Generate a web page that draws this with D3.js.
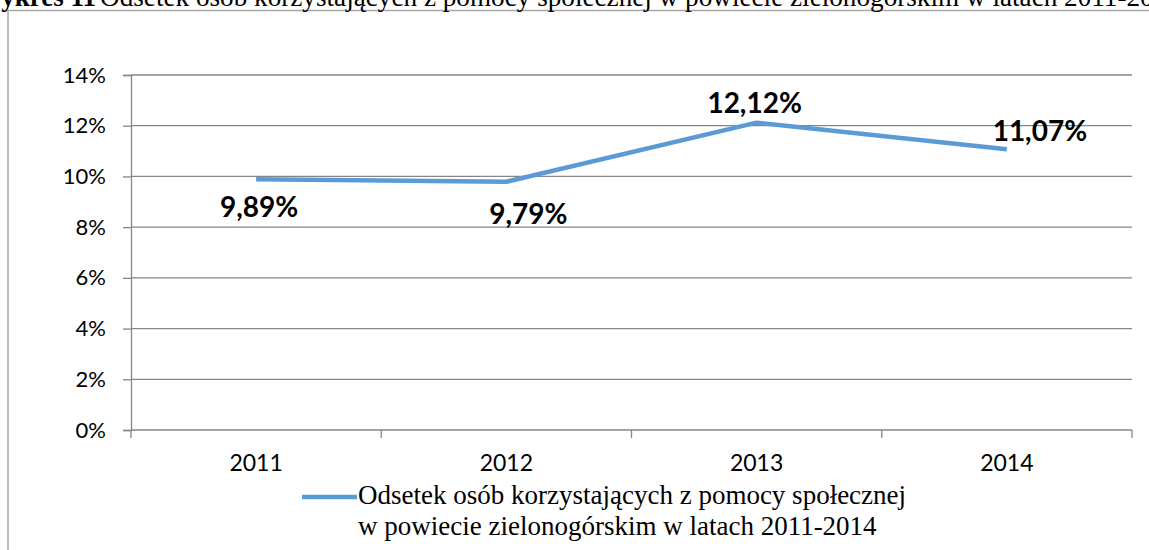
<!DOCTYPE html>
<html>
<head>
<meta charset="utf-8">
<script src="https://cdn.jsdelivr.net/npm/d3@7"></script>
<style>
  body { margin: 0; background: #fff; }
</style>
</head>
<body>
<div id="chart"></div>
<script>
// dane z wykresu
var lata = ["2011", "2012", "2013", "2014"];
var odsetek = [9.89, 9.79, 12.12, 11.07];
var yTicks = [0, 2, 4, 6, 8, 10, 12, 14];
var etykiety = ["9,89%", "9,79%", "12,12%", "11,07%"];
var tytulBold = "Wykres 11";
var tytul = "Odsetek osób korzystających z pomocy społecznej w powiecie zielonogórskim w latach 2011-2014";
var legenda = ["Odsetek osób korzystających z pomocy społecznej", "w powiecie zielonogórskim w latach 2011-2014"];

// przesunięcia etykiet danych (dx, baseline dy)
var labelOffset = [[3, 38], [22, 42], [-2, -10], [33, -8]];

var W = 1149, H = 550;
var svg = d3.select("#chart").append("svg")
  .attr("width", W)
  .attr("height", H);

// ramka
svg.append("rect")
  .attr("x", 8)
  .attr("y", 10.5)
  .attr("width", 1160)
  .attr("height", 600)
  .style("fill", "none")
  .style("stroke", "#a6a6a6")
  .style("stroke-width", 1.5);

// tytuł (ucięty u góry)
svg.append("text")
  .attr("x", 96)
  .attr("y", 6)
  .attr("text-anchor", "end")
  .style("font-family", "'Liberation Serif', 'Times New Roman', serif")
  .style("font-weight", "bold")
  .style("font-size", "27px")
  .text(tytulBold);
svg.append("text")
  .attr("x", 100)
  .attr("y", 6)
  .style("font-family", "'Liberation Serif', 'Times New Roman', serif")
  .style("font-size", "27.2px")
  .text(tytul);

var x = d3.scaleBand().domain(lata).range([131, 1132]);
var y = d3.scaleLinear().domain([0, 14]).range([430, 75]);

// siatka
svg.append("g")
  .selectAll("line")
  .data(yTicks)
  .enter()
  .append("line")
  .attr("x1", 131)
  .attr("x2", 1132)
  .attr("y1", function(d){ return y(d); })
  .attr("y2", function(d){ return y(d); })
  .style("stroke", "#868686")
  .style("stroke-width", 1.3);

// oś Y
var yAxis = svg.append("g")
  .attr("transform", "translate(131,0)")
  .call(d3.axisLeft(y).tickValues(yTicks).tickSize(8).tickPadding(17)
    .tickFormat(function(d){ return d + "%"; }));
yAxis.select(".domain").style("stroke", "#868686").style("stroke-width", 1.3);
yAxis.selectAll(".tick line").style("stroke", "#868686").style("stroke-width", 1.3);
yAxis.selectAll("text")
  .style("font-family", "Lato, 'Open Sans', sans-serif")
  .style("font-size", "22px")
  .style("fill", "#000");

// oś X
var xAxis = svg.append("g")
  .attr("transform", "translate(0,430)")
  .call(d3.axisBottom(x).tickSize(0).tickPadding(25));
xAxis.select(".domain").remove();
xAxis.selectAll("text")
  .style("font-family", "Lato, 'Open Sans', sans-serif")
  .style("font-size", "23px")
  .style("fill", "#000");

// znaczniki między kategoriami
var granice = lata.map(function(d){ return x(d); }).concat([x.range()[1]]);
svg.append("g")
  .selectAll("line")
  .data(granice)
  .enter()
  .append("line")
  .attr("x1", function(d){ return d; })
  .attr("x2", function(d){ return d; })
  .attr("y1", 430)
  .attr("y2", 438)
  .style("stroke", "#868686")
  .style("stroke-width", 1.3);

// linia danych
var line = d3.line()
  .x(function(d, i){ return x(lata[i]) + x.bandwidth() / 2; })
  .y(function(d){ return y(d); });

svg.append("path")
  .datum(odsetek)
  .attr("d", line)
  .style("fill", "none")
  .style("stroke", "#5b9bd5")
  .style("stroke-width", 4.5)
  .style("stroke-linejoin", "round");

// etykiety danych
svg.append("g")
  .selectAll("text")
  .data(odsetek)
  .enter()
  .append("text")
  .attr("x", function(d, i){ return x(lata[i]) + x.bandwidth() / 2 + labelOffset[i][0]; })
  .attr("y", function(d, i){ return y(d) + labelOffset[i][1]; })
  .attr("text-anchor", "middle")
  .style("font-family", "Lato, 'Open Sans', sans-serif")
  .style("font-weight", "bold")
  .style("font-size", "28px")
  .style("fill", "#000")
  .text(function(d, i){ return etykiety[i]; });

// legenda
svg.append("line")
  .attr("x1", 302)
  .attr("x2", 357)
  .attr("y1", 497)
  .attr("y2", 497)
  .style("stroke", "#5b9bd5")
  .style("stroke-width", 4.5);

svg.append("g")
  .selectAll("text")
  .data(legenda)
  .enter()
  .append("text")
  .attr("x", 358)
  .attr("y", function(d, i){ return 504 + i * 31; })
  .style("font-family", "'Liberation Serif', 'Times New Roman', serif")
  .style("font-size", "27px")
  .style("fill", "#000")
  .text(function(d){ return d; });
</script>
</body>
</html>
